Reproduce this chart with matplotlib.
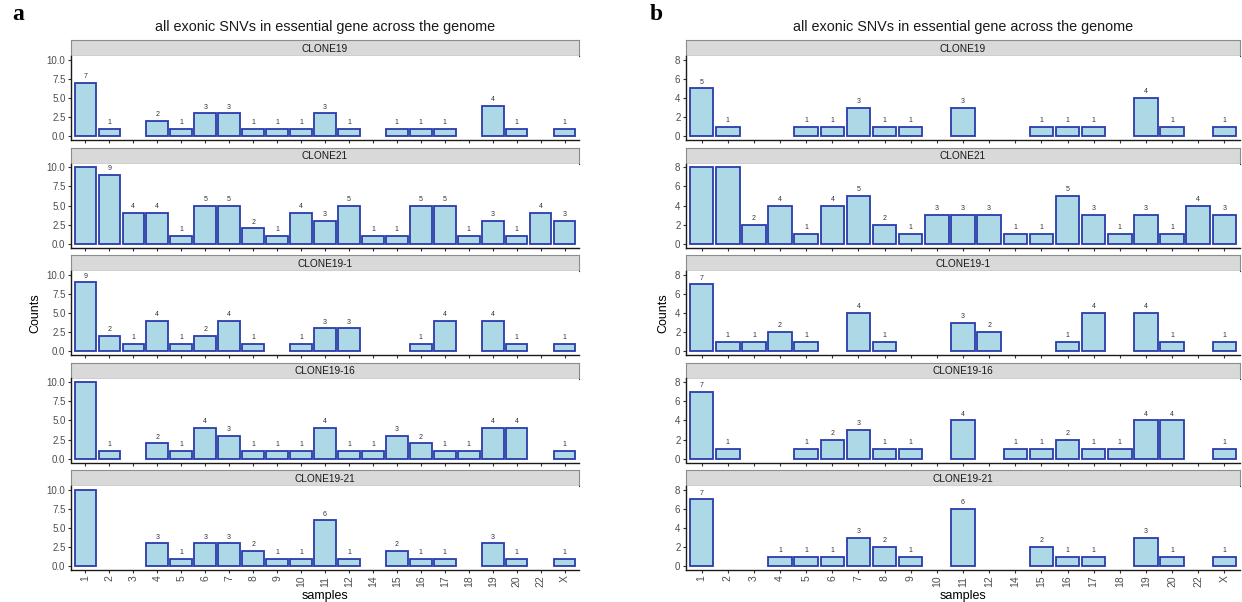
import matplotlib
matplotlib.use("Agg")
import matplotlib.pyplot as plt
import numpy as np

plt.rcParams['font.family'] = ['Liberation Sans', 'DejaVu Sans']

# chromosome categories shared by both panels
samples = ["1", "2", "3", "4", "5", "6", "7", "8", "9", "10", "11", "12",
           "14", "15", "16", "17", "18", "19", "20", "22", "X"]
clones = ["CLONE19", "CLONE21", "CLONE19-1", "CLONE19-16", "CLONE19-21"]

# panel a counts (bars at 10 hit the axis limit)
a_clone19 = [7, 1, 0, 2, 1, 3, 3, 1, 1, 1, 3, 1, 0, 1, 1, 1, 0, 4, 1, 0, 1]
a_clone21 = [10, 9, 4, 4, 1, 5, 5, 2, 1, 4, 3, 5, 1, 1, 5, 5, 1, 3, 1, 4, 3]
a_clone19_1 = [9, 2, 1, 4, 1, 2, 4, 1, 0, 1, 3, 3, 0, 0, 1, 4, 0, 4, 1, 0, 1]
a_clone19_16 = [10, 1, 0, 2, 1, 4, 3, 1, 1, 1, 4, 1, 1, 3, 2, 1, 1, 4, 4, 0, 1]
a_clone19_21 = [10, 0, 0, 3, 1, 3, 3, 2, 1, 1, 6, 1, 0, 2, 1, 1, 0, 3, 1, 0, 1]

# panel b counts (bars at 8 hit the axis limit)
b_clone19 = [5, 1, 0, 0, 1, 1, 3, 1, 1, 0, 3, 0, 0, 1, 1, 1, 0, 4, 1, 0, 1]
b_clone21 = [8, 8, 2, 4, 1, 4, 5, 2, 1, 3, 3, 3, 1, 1, 5, 3, 1, 3, 1, 4, 3]
b_clone19_1 = [7, 1, 1, 2, 1, 0, 4, 1, 0, 0, 3, 2, 0, 0, 1, 4, 0, 4, 1, 0, 1]
b_clone19_16 = [7, 1, 0, 0, 1, 2, 3, 1, 1, 0, 4, 0, 1, 1, 2, 1, 1, 4, 4, 0, 1]
b_clone19_21 = [7, 0, 0, 1, 1, 1, 3, 2, 1, 0, 6, 0, 0, 2, 1, 1, 0, 3, 1, 0, 1]

panel_a = [a_clone19, a_clone21, a_clone19_1, a_clone19_16, a_clone19_21]
panel_b = [b_clone19, b_clone21, b_clone19_1, b_clone19_16, b_clone19_21]

W, H = 1242, 602
fig = plt.figure(figsize=(W / 100, H / 100), dpi=100, facecolor="white")

title = "all exonic SNVs in essential gene across the genome"
fill = "#ADD8E6"
edge = "#2B3BAA"
grey = "#4D4D4D"


def fx(px):
    return px / W


def fy(py):
    return 1 - py / H


def draw_panel(data, left, right, ymax, yticks, ylabels, letter, letter_x):
    x = np.arange(len(samples))
    for k, (name, vals) in enumerate(zip(clones, data)):
        strip_top = 40 + k * 107.5
        panel_top = strip_top + 16
        panel_bot = panel_top + 84

        # strip with facet name
        sax = fig.add_axes([fx(left), fy(panel_top), fx(right - left), 16 / H])
        sax.set_facecolor("#D9D9D9")
        sax.set_xticks([])
        sax.set_yticks([])
        for s in sax.spines.values():
            s.set_color("#8C8C8C")
            s.set_linewidth(0.8)
        sax.spines["bottom"].set_color("#333333")
        sax.text(0.5, 0.45, name, ha="center", va="center", fontsize=7.3,
                 color="#1A1A1A", transform=sax.transAxes)

        ax = fig.add_axes([fx(left), fy(panel_bot), fx(right - left), 84 / H])
        v = np.array(vals, dtype=float)
        mask = v > 0
        ax.bar(x[mask], v[mask], width=0.9, color=fill, edgecolor=edge,
               linewidth=1.3)
        for xi, vi in zip(x[mask], v[mask]):
            if vi < ymax:
                ax.text(xi, vi + ymax * 0.035, str(int(vi)), ha="center",
                        va="bottom", fontsize=5, color="#333333")
        ax.set_xlim(-0.6, len(samples) - 0.4)
        ax.set_ylim(-ymax * 0.05, ymax * 1.05)
        ax.set_yticks(yticks)
        ax.set_yticklabels(ylabels, fontsize=7, color=grey)
        ax.set_xticks(x)
        if k == 4:
            ax.set_xticklabels(samples, rotation=90, fontsize=7.5, color=grey)
            ax.set_xlabel("samples", fontsize=9, labelpad=2)
        else:
            ax.set_xticklabels([])
        ax.tick_params(length=2.5, width=0.8, colors="#333333", pad=1.5,
                       labelcolor=grey)
        ax.spines["top"].set_visible(False)
        ax.spines["right"].set_visible(False)
        ax.spines["left"].set_linewidth(1.0)
        ax.spines["bottom"].set_linewidth(1.0)
        ax.spines["left"].set_color("#1A1A1A")
        ax.spines["bottom"].set_color("#1A1A1A")
        if k == 2:
            ax.set_ylabel("Counts", fontsize=9, labelpad=4)

    fig.text(fx((left + right) / 2), fy(27), title, ha="center", va="center",
             fontsize=10.4, color="#1A1A1A")
    fig.text(fx(letter_x), fy(15), letter, ha="left", va="center",
             fontsize=17, fontweight="bold", family="Liberation Serif")


draw_panel(panel_a, 71, 579, 10, [0, 2.5, 5, 7.5, 10],
           ["0.0", "2.5", "5.0", "7.5", "10.0"], "a", 12)
draw_panel(panel_b, 686, 1240, 8, [0, 2, 4, 6, 8],
           ["0", "2", "4", "6", "8"], "b", 650)

fig.savefig("out.png", dpi=100, facecolor="white")
